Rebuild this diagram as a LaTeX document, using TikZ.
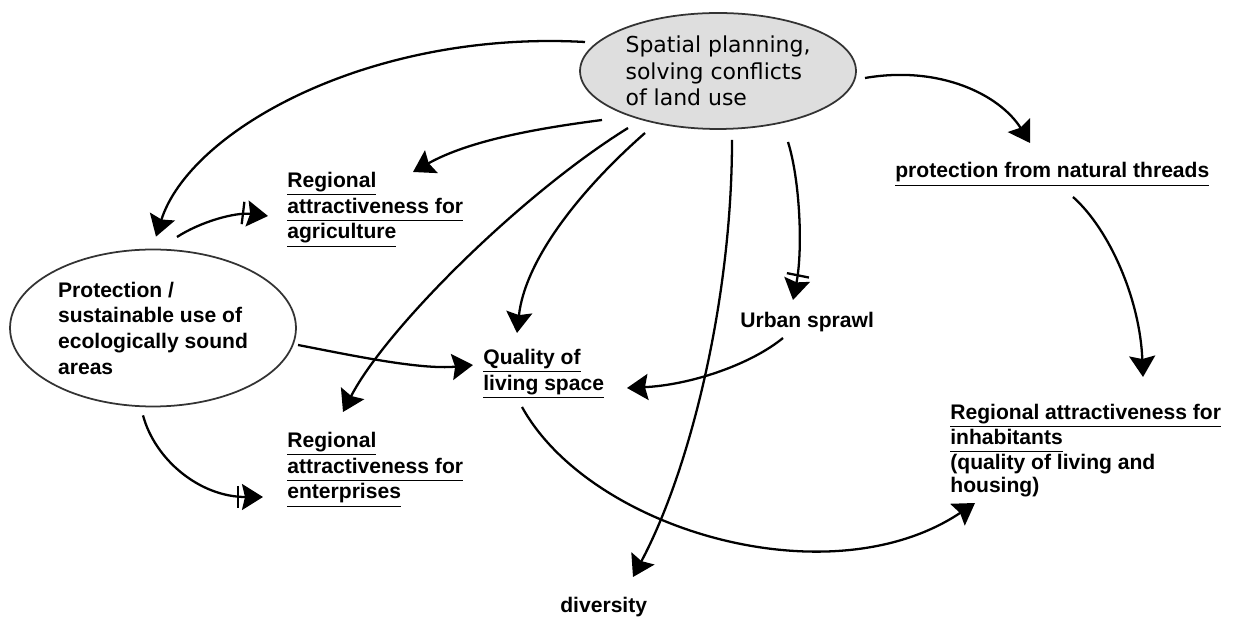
\documentclass[tikz,border=0pt]{standalone}
\usepackage{fontspec}
\setmainfont{Liberation Sans}
\newfontfamily\spatialfont{DejaVu Sans}
\usetikzlibrary{arrows.meta,shapes.geometric,calc}
\newcommand{\ulin}[1]{\underline{#1\vphantom{g}}}
\tikzset{
    %Define standard arrow tip
    >={Stealth[length=4.2mm,width=5.2mm,inset=0.6mm]},
    %Define style for ovals
    oval/.style={
           ellipse,
           draw=black!80, line width=1pt,
           inner sep=0pt,
           align=left},
    %Define style for factors
    factor/.style={
           inner sep=0pt,
           font=\bfseries\fontsize{12}{14.6}\selectfont,
           align=left},
    % Define arrow styles
    pil/.style={
           -{Stealth[length=4.2mm,width=5.2mm,inset=0.6mm]},
           line width=1.3pt},
    pilbar/.style={
           -{Bar[width=4.5mm,line width=1.3pt,sep=0.6mm]Stealth[length=4.2mm,width=5.2mm,inset=0.6mm]},
           line width=1.3pt}
}
\begin{document}
\begin{tikzpicture}[x=0.02cm,y=-0.02cm]
\useasboundingbox (0,0) rectangle (1236,617);
 %nodes
\node[oval, fill=black!13, minimum width=5.52cm, minimum height=2.32cm,
  font=\spatialfont\fontsize{12.5}{15}\selectfont] (spatial) at (718,71)
  {Spatial planning,\\solving conflicts\\of land use};
\node[oval, minimum width=5.72cm, minimum height=3.14cm, factor,
  font=\bfseries\fontsize{12}{14.6}\selectfont] (protection) at (153,328)
  {Protection /\\sustainable use of\\ecologically sound\\areas};
\node[factor, anchor=north west] (agri) at (287,172)
  {\ulin{Regional}\\\ulin{attractiveness for}\\\ulin{agriculture}};
\node[factor, anchor=north west] (enter) at (287,432)
  {\ulin{Regional}\\\ulin{attractiveness for}\\\ulin{enterprises}};
\node[factor, anchor=north west] (quality) at (483,349)
  {\ulin{Quality of}\\\ulin{living space}};
\node[factor, anchor=base west] (urban) at (740,328) {Urban sprawl};
\node[factor, anchor=base west] (threads) at (895,178)
  {\ulin{protection from natural threads}};
\node[factor, anchor=north west, font=\bfseries\fontsize{12}{13}\selectfont] (inhab) at (950,404)
  {\ulin{Regional attractiveness for}\\\ulin{inhabitants}\\(quality of living and\\housing)};
\node[factor, anchor=base west] (diversity) at (560,612) {\ulin{diversity}};
 %connectors
\draw[pil] ($(spatial.center)+(-133,-29)$) .. controls (370,30) and (190,130) .. ($(protection.north)+(3,-12)$);
\draw[pilbar] ($(protection.center)+(24,-91)$) .. controls (200,222) and (235,212) .. ($(agri.north west)+(-19,44)$);
\draw[pilbar] ($(protection.south)+(-10,8)$) .. controls (155,460) and (200,497) .. ($(enter.north west)+(-24,65)$);
\draw[pil] ($(protection.center)+(145,17)$) .. controls (350,355) and (420,370) .. ($(quality.north west)+(-10,16)$);
\draw[pil] ($(spatial.center)+(-116,49)$) .. controls (540,128) and (470,140) .. ($(agri.north west)+(126,0)$);
\draw[pil] ($(spatial.center)+(-90,57)$) .. controls (520,195) and (385,330) .. ($(enter.north west)+(56,-20)$);
\draw[pil] ($(spatial.center)+(-73,62)$) .. controls (580,190) and (525,260) .. ($(quality.north west)+(34,-16)$);
\draw[pil] ($(spatial.center)+(14,69)$) .. controls (732,300) and (690,470) .. ($(diversity.base west)+(73,-35)$);
\draw[pilbar] ($(spatial.center)+(70,71)$) .. controls (800,180) and (803,250) .. ($(urban.base west)+(53,-28)$);
\draw[pil] ($(urban.base west)+(43,10)$) .. controls (750,365) and (690,385) .. ($(quality.north west)+(144,39)$);
\draw[pil] ($(quality.north west)+(39,58)$) .. controls (590,530) and (830,600) .. ($(inhab.north west)+(25,99)$);
\draw[pil] ($(spatial.center)+(147,7)$) .. controls (940,65) and (1000,95) .. ($(threads.base west)+(135,-35)$);
\draw[pil] ($(threads.base west)+(178,19)$) .. controls (1110,230) and (1140,300) .. ($(inhab.north west)+(193,-27)$);
\end{tikzpicture}
\end{document}
